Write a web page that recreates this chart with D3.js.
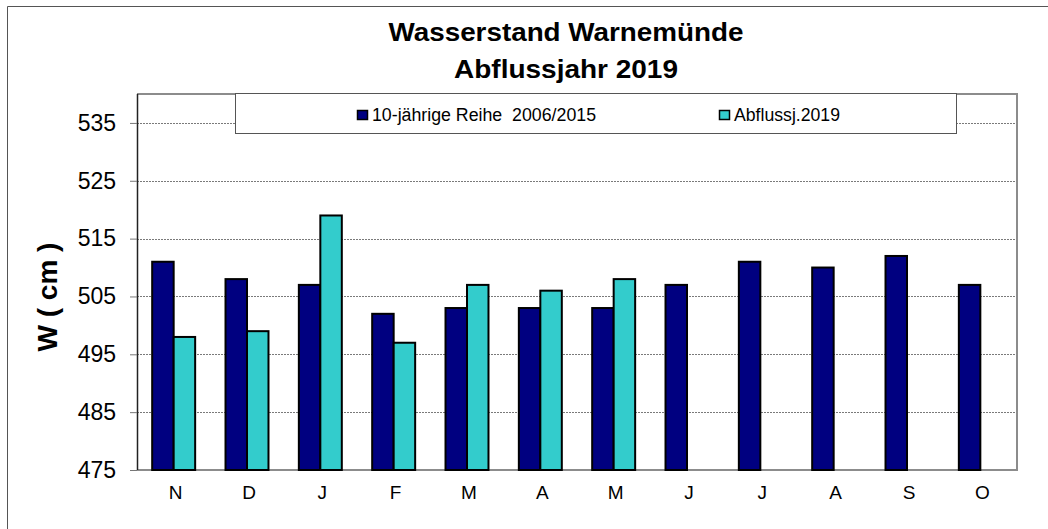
<!DOCTYPE html>
<html>
<head>
<meta charset="utf-8">
<script src="https://cdn.jsdelivr.net/npm/d3@7"></script>
<style>
  body { margin: 0; background: #fff; }
  svg { display: block; font-family: "Liberation Sans", Arial, sans-serif; }
</style>
</head>
<body>
<div id="chart"></div>
<script>
// data
var months = ["N", "D", "J", "F", "M", "A", "M", "J", "J", "A", "S", "O"];
var mean10 = [511, 508, 507, 502, 503, 503, 503, 507, 511, 510, 512, 507];   // 10-jährige Reihe 2006/2015
var year2019 = [498, 499, 519, 497, 507, 506, 508, null, null, null, null, null]; // Abflussj.2019
var yTicks = [475, 485, 495, 505, 515, 525, 535];
var seriesNames = ["10-jährige Reihe  2006/2015", "Abflussj.2019"];
var colors = ["#000080", "#33cccc"];

function init()
{
  var width = 1048, height = 529;
  var left = 137, right = 1017, top = 94, bottom = 470;

  var svg = d3.select("#chart")
    .append("svg")
    .attr("width", width)
    .attr("height", height);

  svg.append("rect")
    .attr("width", width)
    .attr("height", height)
    .style("fill", "white");

  // outer frame (only left and top visible in the picture)
  svg.append("path")
    .attr("d", "M7.5," + height + "V6.5H" + width)
    .style("fill", "none")
    .style("stroke", "#555")
    .style("stroke-width", "1");

  var xScale = d3.scaleBand()
    .domain(d3.range(months.length))
    .range([left, right])
    .padding(0);

  var yScale = d3.scaleLinear()
    .domain([475, 540])
    .range([bottom, top]);

  // gridlines
  svg.append("g")
    .attr("class", "grid")
    .selectAll("line")
    .data(yTicks.slice(1))
    .enter()
    .append("line")
      .attr("x1", left)
      .attr("x2", right)
      .attr("y1", function(d) {return Math.round(yScale(d)) + 0.5;})
      .attr("y2", function(d) {return Math.round(yScale(d)) + 0.5;})
      .style("stroke", "#7a7a7a")
      .style("stroke-width", "1")
      .style("stroke-dasharray", "2,1");

  // plot border: top, right, bottom in grey
  svg.append("path")
    .attr("d", "M" + left + "," + top + "H" + right + "V" + bottom + "H" + left)
    .style("fill", "none")
    .style("stroke", "#8c8c8c")
    .style("stroke-width", "2");

  // y axis
  var yAxis = d3.axisLeft(yScale)
    .tickValues(yTicks)
    .tickSize(7)
    .tickPadding(14)
    .tickFormat(d3.format("d"));

  var gy = svg.append("g")
    .attr("transform", "translate(" + left + ",0)")
    .call(yAxis);

  gy.select(".domain")
    .attr("d", "M0.5," + top + "V" + bottom)
    .style("stroke", "#222")
    .style("stroke-width", "1.5");
  gy.selectAll(".tick line").style("stroke", "#777");
  gy.selectAll(".tick text")
    .style("font-size", "23px")
    .style("font-family", "Liberation Sans, Arial, sans-serif")
    .style("fill", "#000");

  var barW = xScale.bandwidth() * 0.293;

  // 10-jährige Reihe
  svg.selectAll(".bar1")
    .data(mean10)
    .enter()
    .append("rect")
      .attr("class", "bar1")
      .attr("x", function(d, i) {return xScale(i) + xScale.bandwidth() / 2 - barW;})
      .attr("y", function(d) {return yScale(d);})
      .attr("width", barW)
      .attr("height", function(d) {return bottom - yScale(d);})
      .style("fill", colors[0])
      .style("stroke", "#000")
      .style("stroke-width", "2");

  // Abflussjahr 2019
  svg.selectAll(".bar2")
    .data(year2019.map(function(d, i) {return {v: d, i: i};}).filter(function(d) {return d.v !== null;}))
    .enter()
    .append("rect")
      .attr("class", "bar2")
      .attr("x", function(d) {return xScale(d.i) + xScale.bandwidth() / 2;})
      .attr("y", function(d) {return yScale(d.v);})
      .attr("width", barW)
      .attr("height", function(d) {return bottom - yScale(d.v);})
      .style("fill", colors[1])
      .style("stroke", "#000")
      .style("stroke-width", "2");

  // x labels
  svg.selectAll(".xlab")
    .data(months)
    .enter()
    .append("text")
      .attr("class", "xlab")
      .attr("x", function(d, i) {return xScale(i) + xScale.bandwidth() / 2 + 2;})
      .attr("y", 499)
      .style("text-anchor", "middle")
      .style("font-size", "19px")
      .text(function(d) {return d;});

  // legend
  var legend = svg.append("g").attr("class", "legend");

  legend.append("rect")
    .attr("x", 235.5)
    .attr("y", 93.5)
    .attr("width", 721)
    .attr("height", 40)
    .style("fill", "white")
    .style("stroke", "#555")
    .style("stroke-width", "1");

  var legendX = [357, 719];
  var legendLen = [224, 106];
  seriesNames.forEach(function(name, k) {
    legend.append("rect")
      .attr("x", legendX[k] + 0.5)
      .attr("y", 110.5)
      .attr("width", 10)
      .attr("height", 9)
      .style("fill", colors[k])
      .style("stroke", "#000")
      .style("stroke-width", "1.5");

    legend.append("text")
      .attr("x", legendX[k] + 15)
      .attr("y", 120.5)
      .attr("textLength", legendLen[k])
      .attr("lengthAdjust", "spacingAndGlyphs")
      .style("font-size", "18px")
      .style("white-space", "pre")
      .attr("xml:space", "preserve")
      .text(name);
  });

  // title
  var title = svg.append("text")
    .style("text-anchor", "middle")
    .style("font-weight", "bold")
    .style("font-size", "26px");

  title.append("tspan")
    .attr("x", 566)
    .attr("y", 41)
    .attr("textLength", 355)
    .attr("lengthAdjust", "spacingAndGlyphs")
    .text("Wasserstand Warnemünde");

  title.append("tspan")
    .attr("x", 566)
    .attr("y", 78)
    .attr("textLength", 224)
    .attr("lengthAdjust", "spacingAndGlyphs")
    .text("Abflussjahr 2019");

  // y axis caption
  svg.append("text")
    .attr("transform", "translate(57,297) rotate(-90)")
    .style("text-anchor", "middle")
    .style("font-weight", "bold")
    .style("font-size", "28px")
    .text("W ( cm )");
}

window.onload = init;
</script>
</body>
</html>
